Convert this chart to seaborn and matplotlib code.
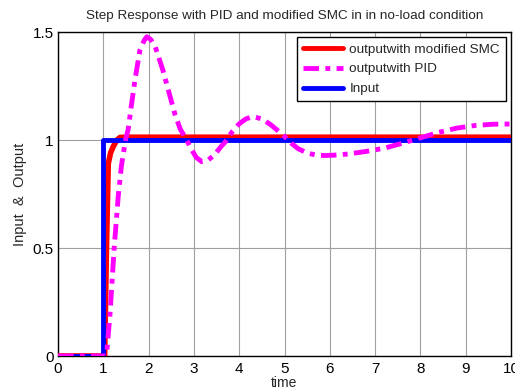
import numpy as np
import pandas as pd
import matplotlib
matplotlib.use("Agg")
import matplotlib.pyplot as plt
import seaborn as sns

# ---- data ----
t_smc = [0, 1.0, 1.03, 1.07, 1.11, 1.16, 1.22, 1.30, 1.37, 1.5, 10.0]
v_smc = [0, 0, 0.0, 0.5, 0.89, 0.94, 0.97, 1.0, 1.012, 1.013, 1.013]

t_pid = [0, 1.0, 1.07, 1.15, 1.24, 1.33, 1.40, 1.49, 1.55, 1.62, 1.70, 1.81, 1.90,
         1.96, 2.05, 2.15, 2.32, 2.45, 2.58, 2.70, 2.84, 2.95, 3.05, 3.17, 3.30,
         3.45, 3.60, 3.69, 3.85, 4.00, 4.15, 4.30, 4.50, 4.70, 4.97, 5.15, 5.30,
         5.50, 5.70, 5.90, 6.10, 6.40, 6.80, 7.20, 7.60, 8.00, 8.40, 8.80, 9.20,
         9.60, 10.0]
v_pid = [0, 0, 0, 0.2, 0.5, 0.74, 0.88, 1.0, 1.05, 1.16, 1.28, 1.417, 1.46,
         1.478, 1.465, 1.43, 1.32, 1.22, 1.12, 1.05, 1.0, 0.955, 0.92, 0.90, 0.905,
         0.93, 0.97, 0.99, 1.04, 1.075, 1.098, 1.108, 1.098, 1.07, 1.023, 0.985, 0.96,
         0.94, 0.93, 0.928, 0.93, 0.935, 0.947, 0.962, 0.985, 1.01, 1.035, 1.055, 1.067,
         1.073, 1.074]

t_in = [0, 1.0, 1.0, 10.0]
v_in = [0, 0, 1, 1]

x_ticks = list(range(0, 11))
y_ticks = [0, 0.5, 1, 1.5]
y_ticklabels = ["0", "0.5", "1", "1.5"]

title = "Step Response with PID and modified SMC in in no-load condition"
labels = ["outputwith modified SMC", "outputwith PID", "Input"]

# ---- style ----
sns.set_style("white")
plt.rcParams["font.family"] = ["Liberation Sans", "DejaVu Sans"]

fig = plt.figure(figsize=(5.15, 3.92), dpi=100)
ax = fig.add_axes([58/515, 1-356/392, (511-58)/515, (356-32)/392])

df_smc = pd.DataFrame({"t": t_smc, "v": v_smc})
df_pid = pd.DataFrame({"t": t_pid, "v": v_pid})
df_in = pd.DataFrame({"t": t_in, "v": v_in})

sns.lineplot(data=df_smc, x="t", y="v", ax=ax, color="#ff0000", linewidth=4,
             estimator=None, sort=False, label=labels[0], zorder=3)
sns.lineplot(data=df_pid, x="t", y="v", ax=ax, color="#ff00ff", linewidth=3.5,
             estimator=None, sort=False, label=labels[1], zorder=5)
ax.lines[-1].set_dashes([3.2, 1.3, 1.0, 1.3])
sns.lineplot(data=df_in, x="t", y="v", ax=ax, color="#0000ff", linewidth=3.5,
             estimator=None, sort=False, label=labels[2], zorder=4)

ax.set_xlim(0, 10)
ax.set_ylim(0, 1.5)
ax.set_xticks(x_ticks)
ax.set_yticks(y_ticks)
ax.set_yticklabels(y_ticklabels)
ax.grid(True, color="#a0a0a0", linewidth=0.8)
ax.set_axisbelow(True)
for s in ax.spines.values():
    s.set_color("black")
    s.set_linewidth(1.0)
    s.set_visible(True)
ax.tick_params(direction="in", length=3, labelsize=11, colors="black")
ax.tick_params(axis="x", pad=4)
ax.tick_params(axis="y", pad=3)

ax.set_title(title, fontsize=9.7, pad=9)
ax.set_xlabel("time", fontsize=10, labelpad=0)
ax.set_ylabel("Input  &  Output", fontsize=10.5, labelpad=4)

leg = ax.legend(loc="upper right", fontsize=9.7, frameon=True, fancybox=False,
                handlelength=3.0, borderpad=0.45, labelspacing=0.55,
                handletextpad=0.45, borderaxespad=0.38)
leg.get_frame().set_edgecolor("black")
leg.get_frame().set_linewidth(1.0)
leg.get_frame().set_alpha(1)
for h in leg.get_lines():
    h.set_linewidth(3.5)

fig.savefig("out.png", dpi=100)
